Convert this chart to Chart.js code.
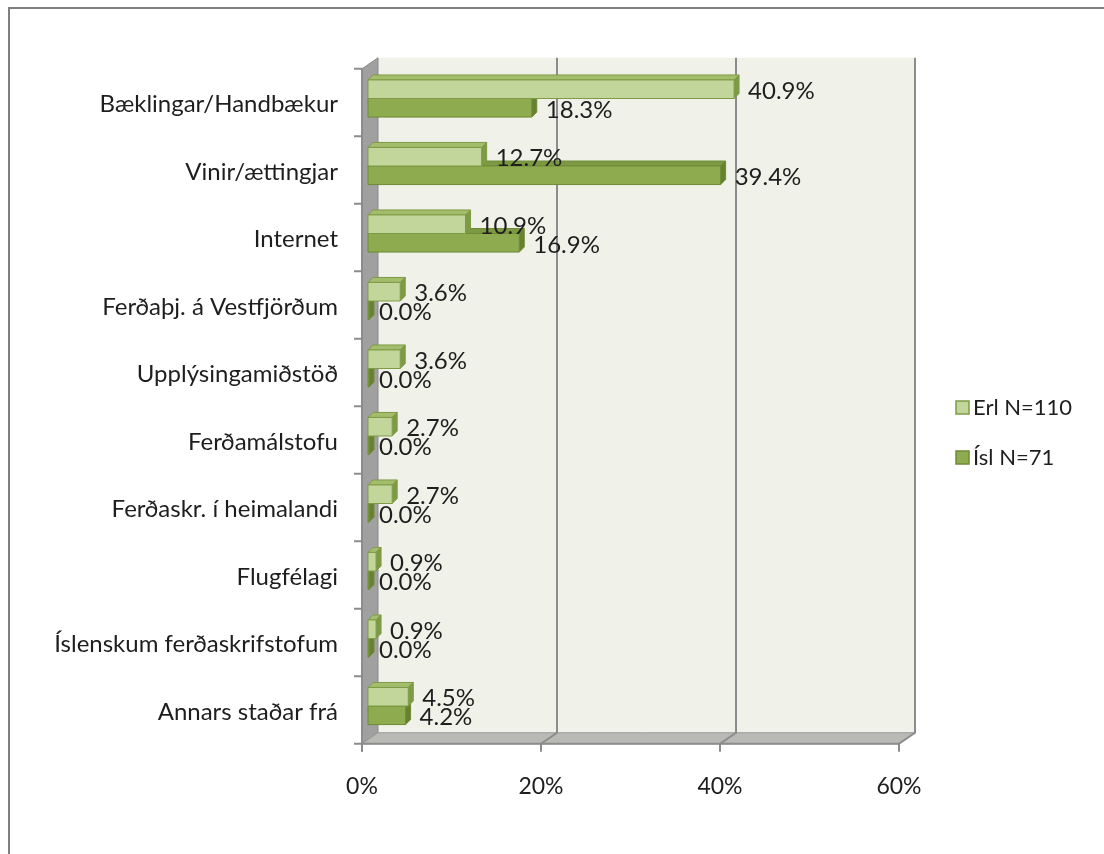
<!DOCTYPE html>
<html>
<head>
<meta charset="utf-8">
<script src="https://cdn.jsdelivr.net/npm/chart.js@4/dist/chart.umd.min.js"></script>
<style>
  html, body { margin: 0; padding: 0; background: #fff; }
  #wrap { width: 1104px; height: 854px; }
</style>
</head>
<body>
<div id="wrap"><canvas id="myChart" width="1104" height="854"></canvas></div>
<script>
const categories = ['Bæklingar/Handbækur', 'Vinir/ættingjar', 'Internet', 'Ferðaþj. á Vestfjörðum', 'Upplýsingamiðstöð',
  'Ferðamálstofu', 'Ferðaskr. í heimalandi', 'Flugfélagi', 'Íslenskum ferðaskrifstofum', 'Annars staðar frá'];
const erl = [40.9, 12.7, 10.9, 3.6, 3.6, 2.7, 2.7, 0.9, 0.9, 4.5];
const isl = [18.3, 39.4, 16.9, 0.0, 0.0, 0.0, 0.0, 0.0, 0.0, 4.2];
const seriesNames = ['Erl N=110', 'Ísl N=71'];
const xTicks = [0, 20, 40, 60];

const FONT = 'Lato';
const FS = 24;
const TXT = '#1e1e1e';

// 3d look: front plane and back wall offsets from the bar plane
const FRONT = {x: -6, y: 4};
const BACK = {x: 10, y: -7};
const DEPTH = {x: 5, y: -5};

const colors = [
  {face: '#c2d59a', top: '#a3bd6c', side: '#7f9a45', edge: '#7f9b46'},
  {face: '#8eab4f', top: '#7c9843', side: '#66812f', edge: '#6f8b36'}
];

function poly(ctx, pts, fill, stroke) {
  ctx.beginPath();
  ctx.moveTo(pts[0][0], pts[0][1]);
  for (let i = 1; i < pts.length; i++) ctx.lineTo(pts[i][0], pts[i][1]);
  ctx.closePath();
  if (fill) { ctx.fillStyle = fill; ctx.fill(); }
  if (stroke) { ctx.strokeStyle = stroke; ctx.lineWidth = 1; ctx.stroke(); }
}

const walls = {
  id: 'walls',
  beforeDraw(chart) {
    const ctx = chart.ctx;
    ctx.save();
    ctx.strokeStyle = '#7f7f7f';
    ctx.lineWidth = 2;
    ctx.beginPath();
    ctx.moveTo(9, 860);
    ctx.lineTo(9, 8);
    ctx.lineTo(1110, 8);
    ctx.stroke();
    ctx.restore();
  },
  beforeDatasetsDraw(chart) {
    const ctx = chart.ctx;
    const a = chart.chartArea;
    const xs = chart.scales.x;
    ctx.save();
    // back wall
    poly(ctx, [[a.left + BACK.x, a.top + BACK.y], [a.right + BACK.x, a.top + BACK.y],
      [a.right + BACK.x, a.bottom + BACK.y], [a.left + BACK.x, a.bottom + BACK.y]], '#f0f2ea');
    // side wall
    poly(ctx, [[a.left + FRONT.x, a.top + FRONT.y], [a.left + BACK.x, a.top + BACK.y],
      [a.left + BACK.x, a.bottom + BACK.y], [a.left + FRONT.x, a.bottom + FRONT.y]], '#a0a0a0', '#8a8a8a');
    // floor
    poly(ctx, [[a.left + FRONT.x, a.bottom + FRONT.y], [a.left + BACK.x, a.bottom + BACK.y],
      [a.right + BACK.x, a.bottom + BACK.y], [a.right + FRONT.x, a.bottom + FRONT.y]], '#b9bab6', '#9a9a9a');
    // gridlines
    ctx.strokeStyle = '#8c8c8c';
    ctx.lineWidth = 2;
    xTicks.forEach(t => {
      if (t === 0) return;
      const px = xs.getPixelForValue(t);
      ctx.beginPath();
      ctx.moveTo(px + BACK.x, a.top + BACK.y);
      ctx.lineTo(px + BACK.x, a.bottom + BACK.y);
      ctx.lineTo(px + FRONT.x, a.bottom + FRONT.y);
      ctx.stroke();
    });
    // axes
    const fx = a.left + FRONT.x;
    const fy = a.bottom + FRONT.y;
    ctx.beginPath();
    ctx.moveTo(fx, a.top + FRONT.y);
    ctx.lineTo(fx, fy + 8);
    ctx.moveTo(fx - 8, fy);
    ctx.lineTo(a.right + FRONT.x, fy);
    ctx.stroke();
    xTicks.forEach(t => {
      const px = xs.getPixelForValue(t) + FRONT.x;
      ctx.beginPath();
      ctx.moveTo(px, fy);
      ctx.lineTo(px, fy + 8);
      ctx.stroke();
    });
    const step = (a.bottom - a.top) / categories.length;
    for (let k = 0; k < categories.length; k++) {
      const py = a.top + FRONT.y + k * step;
      ctx.beginPath();
      ctx.moveTo(fx - 8, py);
      ctx.lineTo(fx, py);
      ctx.stroke();
    }
    ctx.restore();
  },
  afterDatasetsDraw(chart) {
    const ctx = chart.ctx;
    ctx.save();
    const drawBar = (di, j) => {
      const el = chart.getDatasetMeta(di).data[j];
      const p = el.getProps(['x', 'y', 'base', 'height'], true);
      const c = colors[di];
      const top = p.y - p.height / 2;
      const bot = p.y + p.height / 2;
      const x0 = p.base;
      const x1 = Math.max(p.x, p.base + 1);
      // top face
      poly(ctx, [[x0, top], [x0 + DEPTH.x, top + DEPTH.y], [x1 + DEPTH.x, top + DEPTH.y], [x1, top]], c.top, c.edge);
      // right face
      poly(ctx, [[x1, top], [x1 + DEPTH.x, top + DEPTH.y], [x1 + DEPTH.x, bot + DEPTH.y], [x1, bot]], c.side, c.edge);
      // front face
      poly(ctx, [[x0, top], [x1, top], [x1, bot], [x0, bot]], c.face, c.edge);
    };
    for (let j = 0; j < categories.length; j++) {
      drawBar(1, j);
      drawBar(0, j);
    }
    // value labels
    ctx.font = FS + 'px ' + FONT;
    ctx.fillStyle = TXT;
    ctx.textAlign = 'left';
    ctx.textBaseline = 'middle';
    [0, 1].forEach(di => {
      const meta = chart.getDatasetMeta(di);
      meta.data.forEach((el, j) => {
        const v = chart.data.datasets[di].data[j];
        const off = v === 0 ? 11 : 14;
        ctx.fillText(v.toFixed(1) + '%', el.x + off, el.y + 2);
      });
    });
    // legend
    ctx.font = '22px ' + FONT;
    chart.data.datasets.forEach((ds, di) => {
      const ly = 408 + di * 50;
      ctx.fillStyle = colors[di].face;
      ctx.fillRect(956, ly - 7, 13, 13);
      ctx.strokeStyle = colors[di].edge;
      ctx.lineWidth = 1.5;
      ctx.strokeRect(956, ly - 7, 13, 13);
      ctx.fillStyle = TXT;
      ctx.fillText(ds.label, 973, ly);
    });
    ctx.restore();
  }
};

const myChartObject = document.getElementById('myChart');

const cfg = {
  type: 'bar',
  data: {
    labels: categories,
    datasets: [{
      label: seriesNames[0],
      data: erl,
      backgroundColor: 'rgba(0,0,0,0)',
      borderWidth: 0
    }, {
      label: seriesNames[1],
      data: isl,
      backgroundColor: 'rgba(0,0,0,0)',
      borderWidth: 0
    }]
  },
  options: {
    indexAxis: 'y',
    responsive: false,
    animation: false,
    categoryPercentage: 0.55,
    barPercentage: 1.0,
    layout: {padding: {left: 0, top: 64.75, right: 199, bottom: 0}},
    plugins: {legend: {display: false}, tooltip: {enabled: false}},
    scales: {
      x: {
        min: 0, max: 60,
        afterFit(scale) { scale.height = 114.25; },
        afterBuildTicks(scale) { scale.ticks = xTicks.map(v => ({value: v})); },
        grid: {display: false, drawTicks: false},
        border: {display: false},
        ticks: {
          padding: 33, labelOffset: -6, color: TXT,
          font: {family: FONT, size: 23},
          callback: v => v + '%'
        }
      },
      y: {
        afterFit(scale) { scale.width = 368; },
        grid: {display: false, drawTicks: false},
        border: {display: false},
        ticks: {padding: 30, labelOffset: 6, color: TXT, font: {family: FONT, size: FS}}
      }
    }
  },
  plugins: [walls]
};

let chart = new Chart(myChartObject, cfg);
</script>
</body>
</html>
